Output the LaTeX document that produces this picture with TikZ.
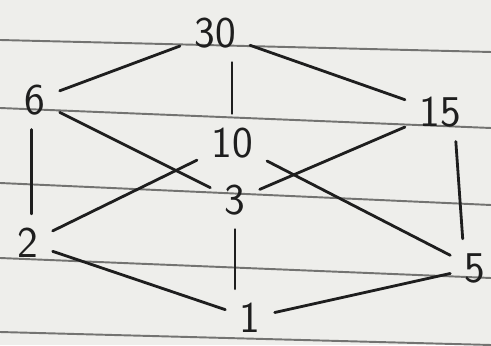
\documentclass[tikz,border=0pt]{standalone}
\definecolor{paper}{RGB}{238,238,235}
\definecolor{rule}{RGB}{115,115,113}
\definecolor{ink}{RGB}{30,30,30}
\usepackage{tikz}
\usetikzlibrary{positioning}

\begin{document}
\begin{tikzpicture}[
        num/.style={inner sep=8pt, text=ink, font=\sffamily\fontsize{25}{29}\selectfont},
        edge/.style={draw=ink, line width=1.6pt, line cap=round},
        ruling/.style={draw=rule, line width=1.1pt}
    ]
        \fill[paper] (0,0) rectangle (9.82,6.90);
        \useasboundingbox (0,0) rectangle (9.82,6.90);
        \draw[ruling] (0,6.10) -- (9.82,5.86);
        \draw[ruling] (0,4.74) -- (9.82,4.34);
        \draw[ruling] (0,3.24) -- (9.82,2.80);
        \draw[ruling] (0,1.74) -- (9.82,1.34);
        \draw[ruling] (0,0.26) -- (9.82,0.00);
        \node[num] (n30) at (4.30,6.24) {30};
        \node[num] (n6) at (0.70,4.90) {6};
        \node[num] (n15) at (8.80,4.66) {15};
        \node[num] (n10) at (4.64,4.04) {10};
        \node[num] (n3) at (4.70,2.90) {3};
        \node[num] (n2) at (0.56,2.04) {2};
        \node[num] (n5) at (9.50,1.54) {5};
        \node[num] (n1) at (5.00,0.54) {1};
        \draw[edge] (n30) -- (n6);
        \draw[edge] (n30) -- (n15);
        \draw[edge] (n30.south -| n10.north) -- (n10.north);
        \draw[edge] ([xshift=-2pt]n6.south) -- ([xshift=-2pt]n6.south |- n2.north);
        \draw[edge] (n6) -- (n3);
        \draw[edge] (n10) -- (n2);
        \draw[edge] (n10) -- (n5);
        \draw[edge] (n15) -- (n3);
        \draw[edge] ([xshift=9pt]n15.south) -- ([xshift=-7pt]n5.north);
        \draw[edge] (n3.south) -- (n3.south |- n1.north);
        \draw[edge] (n2) -- (n1);
        \draw[edge] (n1) -- (n5);
    \end{tikzpicture}
\end{document}
